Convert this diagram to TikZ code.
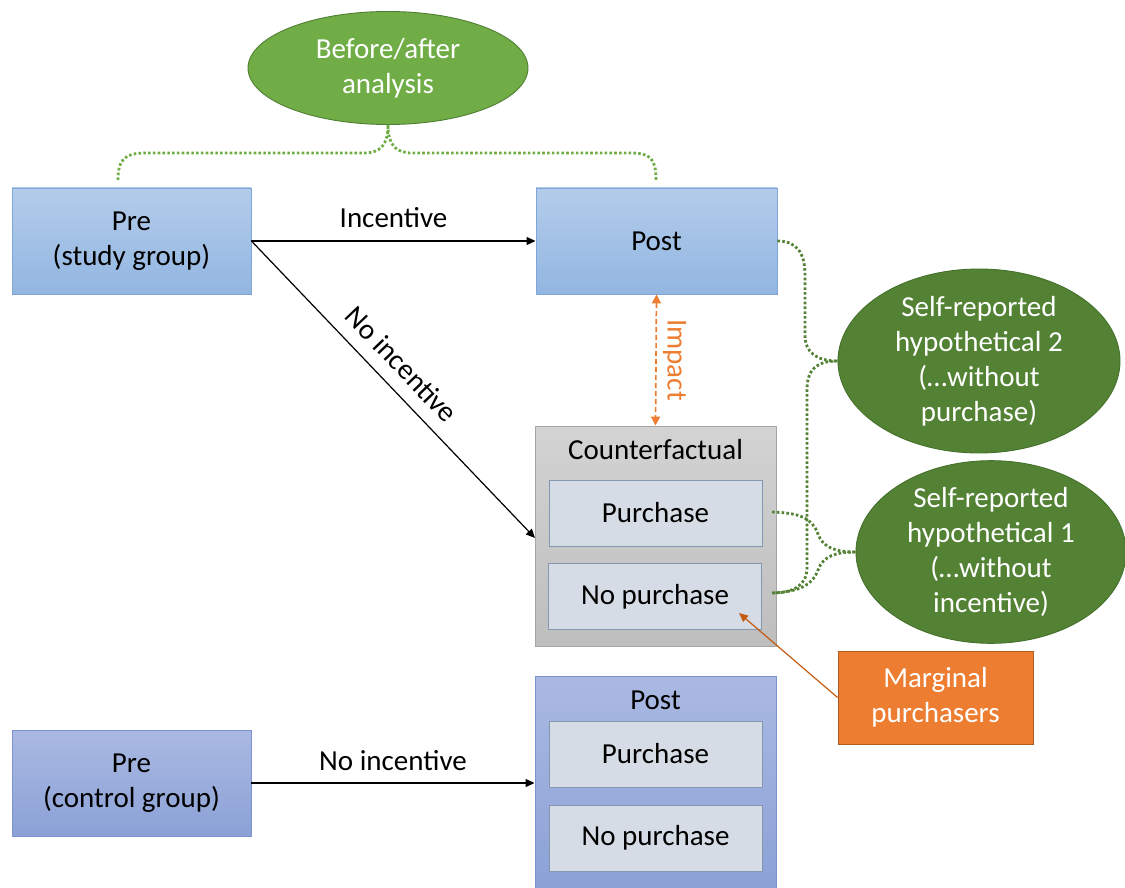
\documentclass[tikz,border=0pt]{standalone}
\usepackage{fontspec}
\setmainfont{Carlito}
\usetikzlibrary{shapes.geometric,arrows.meta}

\definecolor{lgreen}{HTML}{70AD47}
\definecolor{lgreenD}{HTML}{507E32}
\definecolor{dgreen}{HTML}{548235}
\definecolor{dgreenD}{HTML}{45702B}
\definecolor{blueT}{HTML}{B3CCEB}
\definecolor{blueB}{HTML}{92B6E1}
\definecolor{blueD}{HTML}{7FA6D8}
\definecolor{periT}{HTML}{AAB9E2}
\definecolor{periB}{HTML}{8BA1D6}
\definecolor{periD}{HTML}{7C93CF}
\definecolor{grayT}{HTML}{D3D3D3}
\definecolor{grayB}{HTML}{BEBEBE}
\definecolor{grayD}{HTML}{A6A6A6}
\definecolor{innerF}{HTML}{D6DCE5}
\definecolor{innerD}{HTML}{8496B0}
\definecolor{orangeF}{HTML}{ED7D31}
\definecolor{orangeD}{HTML}{AE5A21}
\definecolor{orangeA}{HTML}{C55A11}

\tikzset{
  txt/.style={font=\fontsize{29}{35}\selectfont, align=center, inner sep=0pt},
  bluebox/.style={txt, rectangle, draw=blueD, line width=0.9pt, top color=blueT, bottom color=blueB},
  peribox/.style={txt, rectangle, draw=periD, line width=0.9pt, top color=periT, bottom color=periB},
  graybox/.style={txt, rectangle, draw=grayD, line width=0.9pt, top color=grayT, bottom color=grayB},
  innerbox/.style={txt, rectangle, draw=innerD, line width=0.9pt, fill=innerF, minimum width=213pt, minimum height=66pt},
  ellA/.style={txt, ellipse, draw=lgreenD, line width=0.9pt, fill=lgreen, text=white},
  ellB/.style={txt, ellipse, draw=dgreenD, line width=0.9pt, fill=dgreen, text=white},
  orangebox/.style={txt, rectangle, draw=orangeD, line width=0.9pt, fill=orangeF, text=white},
  flow/.style={-{Triangle[length=9pt,width=8pt]}, line width=1.2pt, black},
  dotA/.style={draw=lgreen, line width=2.8pt, line cap=butt, dash pattern=on 2.6pt off 2.2pt},
  dotB/.style={draw=dgreen, line width=2.8pt, line cap=butt, dash pattern=on 2.6pt off 2.2pt},
}

\begin{document}
\begin{tikzpicture}[x=1pt,y=-1pt]
\useasboundingbox (0,0) rectangle (1125,888);

% study group
\node[bluebox, minimum width=239pt, minimum height=106pt] (preS) at (131.5,241) {Pre\\(study group)};
\node[bluebox, minimum width=241pt, minimum height=106pt] (postS) at (656.5,241) {Post};

% counterfactual container
\node[graybox, minimum width=241pt, minimum height=220pt] (cf) at (655.5,536) {};
\node[txt] (cfT) at (655.5,450) {Counterfactual};
\node[innerbox] (cfP) at (655.5,513) {Purchase};
\node[innerbox] (cfN) at (655,596.5) {No purchase};

% control group
\node[peribox, minimum width=239pt, minimum height=106pt] (preC) at (131.5,783) {Pre\\(control group)};
\node[peribox, minimum width=241pt, minimum height=214pt] (postC) at (655.5,783) {};
\node[txt] (postCT) at (655.5,700) {Post};
\node[innerbox] (pcP) at (655.5,754) {Purchase};
\node[innerbox] (pcN) at (655.5,838) {No purchase};

% ellipses
\node[ellA, minimum width=280pt, minimum height=113pt] (ellBA) at (388,68) {Before/after\\analysis};
\node[ellB, minimum width=282pt, minimum height=184pt] (ell2) at (979,361) {Self-reported\\hypothetical 2\\(\dots without\\purchase)};
\node[ellB, minimum width=270pt, minimum height=176pt] (ell1) at (991,552) {Self-reported\\hypothetical 1\\(\dots without\\incentive)};

% marginal purchasers
\node[orangebox, minimum width=195pt, minimum height=93pt] (marg) at (935.5,697.5) {Marginal\\purchasers};

% main arrows
\draw[flow] (preS.east) -- node[txt, above=13pt] {Incentive} (postS.west);
\coordinate (cfIn) at (535,538);
\draw[flow] (preS.east) -- node[txt, pos=0.47, sloped, above=13pt] {No incentive} (cfIn);
\draw[flow] (preC.east) -- node[txt, above=12pt] {No incentive} (postC.west);

% impact
\draw[orangeF, line width=1.7pt, dash pattern=on 5pt off 3pt, {Triangle[length=9pt,width=9pt]}-{Triangle[length=9pt,width=9pt]}]
  (postS.south) -- node[txt, midway, rotate=-90, anchor=south, inner sep=6pt, text=orangeF] {Impact} (cf.north);

% marginal purchasers pointer
\coordinate (mTip) at (739,613);
\draw[orangeA, line width=1.2pt, -{Triangle[length=9pt,width=8pt]}] (marg.west) -- (mTip);

% dotted braces
\coordinate (bl) at (118,180);
\coordinate (br) at (656,180);
\draw[dotA] (bl) .. controls (118,158) and (126,153) .. (146,153) -- (364,153)
  .. controls (381,153) and (388,144) .. (ellBA.south);
\draw[dotA] (ellBA.south) .. controls (388,144) and (395,153) .. (412,153) -- (630,153)
  .. controls (650,153) and (656,158) .. (br);

\coordinate (cfPr) at (772,512);
\coordinate (cfNr) at (772,593);
\draw[dotB] (postS.east) .. controls (796,241) and (805,252) .. (805,275) -- (805,335)
  .. controls (805,352) and (816,361) .. (ell2.west);
\draw[dotB] (ell2.west) .. controls (816,361) and (807,370) .. (807,390) -- (807,568)
  .. controls (807,586) and (792,593) .. (cfNr);
\draw[dotB] (cfPr) .. controls (800,513) and (812,518) .. (818,534)
  .. controls (823,548) and (836,552) .. (ell1.west);
\draw[dotB] (ell1.west) .. controls (836,552) and (823,556) .. (818,570)
  .. controls (812,587) and (795,592) .. (cfNr);
\end{tikzpicture}
\end{document}
